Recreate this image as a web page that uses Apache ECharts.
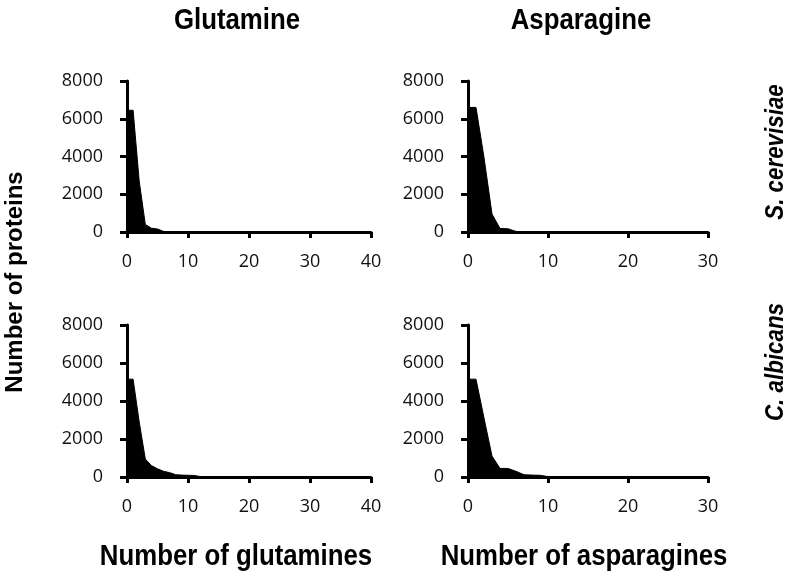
<!DOCTYPE html>
<html>
<head>
<meta charset="utf-8">
<script src="https://cdn.jsdelivr.net/npm/echarts@6/dist/echarts.min.js"></script>
<style>
html,body{margin:0;padding:0;background:#fff;}
#chart{width:789px;height:580px;}
</style>
</head>
<body>
<div id="chart"></div>
<script>
// Columns: Glutamine, Asparagine. Rows: S. cerevisiae, C. albicans
const columnTitles = ['Glutamine', 'Asparagine'];
const rowTitles = ['S. cerevisiae', 'C. albicans'];
const xAxisTitles = ['Number of glutamines', 'Number of asparagines'];
const yAxisTitle = 'Number of proteins';
const yTicks = [0, 2000, 4000, 6000, 8000];
const glnTicks = [0, 10, 20, 30, 40];
const asnTicks = [0, 10, 20, 30];

// Number of proteins vs residue count (index = count)
const glnScer = [6450, 6450, 2700, 400, 200, 160, 30, 15, 10, 8, 6, 5, 4, 3, 3, 2, 2, 2, 1, 1, 1, 1, 1, 1, 0, 0, 0, 0, 0, 0, 0, 0, 0, 0, 0, 0, 0, 0, 0, 0, 0];
const asnScer = [6600, 6600, 3950, 950, 190, 170, 30, 15, 10, 6, 4, 3, 2, 2, 1, 1, 1, 1, 0, 0, 0, 0, 0, 0, 0, 0, 0, 0, 0, 0, 0];
const glnCalb = [5150, 5150, 2900, 950, 600, 430, 300, 230, 120, 100, 90, 80, 25, 15, 10, 8, 6, 5, 4, 3, 3, 2, 2, 2, 1, 1, 1, 1, 0, 0, 0, 0, 0, 0, 0, 0, 0, 0, 0, 0, 0];
const asnCalb = [5150, 5150, 3100, 1100, 450, 450, 300, 120, 100, 90, 20, 15, 10, 8, 6, 5, 4, 3, 2, 2, 1, 1, 1, 0, 0, 0, 0, 0, 0, 0, 0];

const panels = [
  {data: glnScer, ticks: glnTicks, grid: {left: 127, top: 81, width: 244, height: 151}},
  {data: asnScer, ticks: asnTicks, grid: {left: 468, top: 81, width: 240, height: 151}},
  {data: glnCalb, ticks: glnTicks, grid: {left: 127, top: 325, width: 244, height: 152}},
  {data: asnCalb, ticks: asnTicks, grid: {left: 468, top: 325, width: 240, height: 152}}
];

const labelFont = {fontFamily: 'Open Sans', fontSize: 18, color: '#111'};
const axisLineStyle = {color: '#000', width: 3};
const titleFont = 'bold 30px "Liberation Sans", Arial';
const rowFont = 'italic bold 26px "Liberation Sans", Arial';
const narrow = 0.86;

const chart = echarts.init(document.getElementById('chart'), null, {renderer: 'canvas'});

const option = {
  backgroundColor: '#fff',
  animation: false,
  grid: panels.map(p => p.grid),
  xAxis: panels.map((p, i) => ({
    type: 'value', gridIndex: i, min: p.ticks[0], max: p.ticks[p.ticks.length - 1], interval: p.ticks[1] - p.ticks[0],
    axisLine: {show: true, onZero: false, lineStyle: axisLineStyle},
    axisTick: {show: true, length: 6, inside: false, lineStyle: {color: '#000', width: 3}},
    splitLine: {show: false},
    axisLabel: Object.assign({margin: 21, formatter: v => String(v)}, labelFont)
  })),
  yAxis: panels.map((p, i) => ({
    type: 'value', gridIndex: i, min: yTicks[0], max: yTicks[yTicks.length - 1], interval: yTicks[1] - yTicks[0],
    axisLine: {show: true, lineStyle: axisLineStyle},
    axisTick: {show: true, length: 7, inside: false, lineStyle: {color: '#000', width: 3}},
    splitLine: {show: false},
    axisLabel: Object.assign({margin: 24, formatter: v => String(v)}, labelFont)
  })),
  series: panels.map((p, i) => ({
    type: 'line', xAxisIndex: i, yAxisIndex: i,
    data: p.data.map((v, k) => [k, v]),
    showSymbol: false, symbol: 'none',
    lineStyle: {color: '#000', width: 1},
    areaStyle: {color: '#000', opacity: 1},
    z: 1
  })),
  graphic: [
    {type: 'text', x: 237, y: 21, scaleX: narrow, style: {text: columnTitles[0], font: titleFont, fill: '#000', align: 'center', verticalAlign: 'middle'}},
    {type: 'text', x: 581, y: 21, scaleX: narrow, style: {text: columnTitles[1], font: titleFont, fill: '#000', align: 'center', verticalAlign: 'middle'}},
    {type: 'text', x: 236, y: 557, scaleX: narrow, style: {text: xAxisTitles[0], font: titleFont, fill: '#000', align: 'center', verticalAlign: 'middle'}},
    {type: 'text', x: 584, y: 557, scaleX: narrow, style: {text: xAxisTitles[1], font: titleFont, fill: '#000', align: 'center', verticalAlign: 'middle'}},
    {type: 'text', x: 15, y: 282, rotation: Math.PI / 2, style: {text: yAxisTitle, font: 'bold 24px "Liberation Sans", Arial', fill: '#000', align: 'center', verticalAlign: 'middle'}},
    {type: 'text', x: 776, y: 152, rotation: Math.PI / 2, scaleX: narrow, style: {text: rowTitles[0], font: rowFont, fill: '#000', align: 'center', verticalAlign: 'middle'}},
    {type: 'text', x: 776, y: 362, rotation: Math.PI / 2, scaleX: narrow, style: {text: rowTitles[1], font: rowFont, fill: '#000', align: 'center', verticalAlign: 'middle'}}
  ]
};
chart.setOption(option);
</script>
</body>
</html>
